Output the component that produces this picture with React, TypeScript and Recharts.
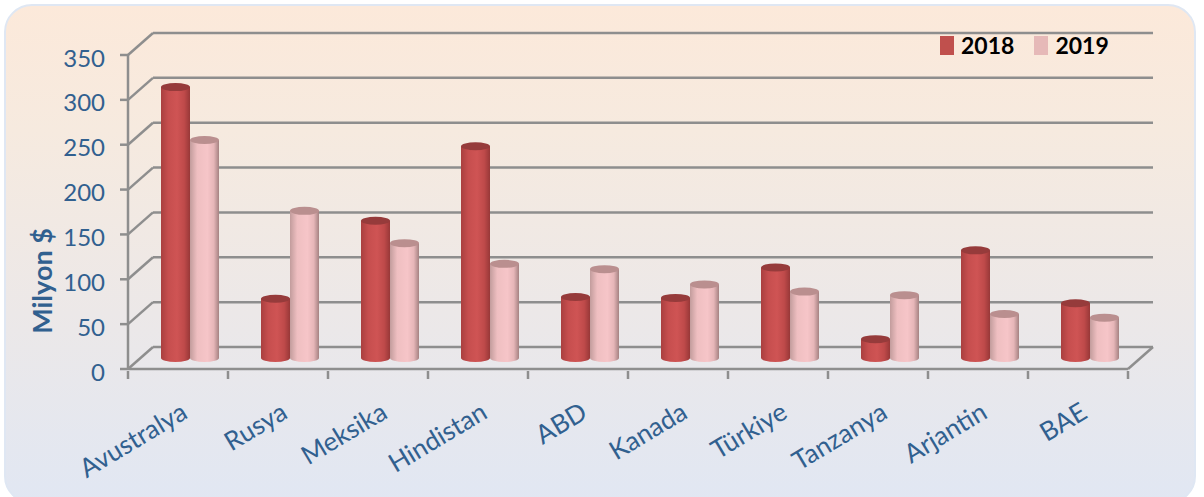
import React from "react";
import { ComposedChart, Bar, XAxis, YAxis, CartesianGrid, Legend, Label } from "recharts";

const categories = ["Avustralya", "Rusya", "Meksika", "Hindistan", "ABD", "Kanada", "Türkiye", "Tanzanya", "Arjantin", "BAE"];
const values2018 = [302, 66, 153, 236, 68, 67, 101, 21, 120, 61];
const values2019 = [243, 164, 128, 105, 99, 82, 74, 70, 49, 45];
const yTicks = [0, 50, 100, 150, 200, 250, 300, 350];
const data = categories.map((name, i) => ({ name, y2018: values2018[i], y2019: values2019[i] }));

const BLUE = "#31608f";
const AXIS = "#8e8e8e";
const FONT = "Lato, 'Open Sans', sans-serif";
const DX = 25;
const DY = -22;
const BAR_DX = 12;
const BAR_DY = -11;

const GridLine = (p: any) => {
  const { x1, x2, y1 } = p;
  const isFloor = y1 > 360;
  return (
    <g stroke={AXIS} strokeWidth={2.5} fill="none">
      <line x1={x1} y1={y1} x2={x1 + DX} y2={y1 + DY} />
      <line x1={x1 + DX} y1={y1 + DY} x2={x2 + DX} y2={y1 + DY} />
      {isFloor && <line x1={x2} y1={y1} x2={x2 + DX} y2={y1 + DY} />}
    </g>
  );
};

const Cylinder = (p: any, grad: string, topColor: string) => {
  const { x, y, width, height } = p;
  const left = x + BAR_DX;
  const top = y + BAR_DY;
  const bottom = top + height;
  const rx = width / 2;
  const ry = 4;
  return (
    <g>
      <path
        d={`M${left},${top} L${left},${bottom} A${rx},${ry} 0 0 0 ${left + width},${bottom} L${left + width},${top} Z`}
        fill={`url(#${grad})`}
      />
      <ellipse cx={left + rx} cy={top} rx={rx} ry={ry} fill={topColor} />
    </g>
  );
};

const XTick = (p: any) => {
  const { x, y, payload, index } = p;
  return (
    <g>
      <line x1={x - 50} y1={y} x2={x - 50} y2={y + 8} stroke={AXIS} strokeWidth={2.5} />
      {index === categories.length - 1 && <line x1={x + 50} y1={y} x2={x + 50} y2={y + 8} stroke={AXIS} strokeWidth={2.5} />}
      <text
        transform={`translate(${x + 11},${y + 46}) rotate(-31)`}
        textAnchor="end"
        fill={BLUE}
        fontFamily={FONT}
        fontSize={26}
      >
        {payload.value}
      </text>
    </g>
  );
};

const LegendContent = (p: any) => (
  <div style={{ display: "flex", fontFamily: FONT, fontWeight: 700, fontSize: 23, color: "#000", lineHeight: "26px" }}>
    {(p.payload || []).map((e: any) => (
      <div key={e.value} style={{ display: "flex", alignItems: "center", marginRight: 20 }}>
        <span style={{ width: 14, height: 19, background: e.color, marginRight: 7, display: "inline-block" }} />
        <span>{e.value}</span>
      </div>
    ))}
  </div>
);

export default function App() {
  return (
    <div style={{ position: "absolute", left: 0, top: 0, width: 1204, height: 497, overflow: "hidden", background: "#fff" }}>
      <div
        style={{
          position: "absolute",
          left: 4,
          top: 4,
          width: 1192,
          height: 500,
          boxSizing: "border-box",
          borderRadius: 28,
          border: "2px solid #dfe7f3",
          background: "linear-gradient(180deg, #fce9da 0%, #f6eadf 25%, #ece8e8 62%, #e1e7f3 100%)",
        }}
      />
      <div style={{ position: "absolute", left: 0, top: 0 }}>
        <ComposedChart
          width={1204}
          height={497}
          data={data}
          barGap={0}
          barCategoryGap={21}
          margin={{ top: 55, right: 76, bottom: 0, left: 0 }}
        >
          <defs>
            <linearGradient id="g2018" x1="0" y1="0" x2="1" y2="0">
              <stop offset="0%" stopColor="#a93f3f" />
              <stop offset="25%" stopColor="#c64e4e" />
              <stop offset="55%" stopColor="#cf5454" />
              <stop offset="80%" stopColor="#bf4a4a" />
              <stop offset="100%" stopColor="#983838" />
            </linearGradient>
            <linearGradient id="g2019" x1="0" y1="0" x2="1" y2="0">
              <stop offset="0%" stopColor="#c29c9c" />
              <stop offset="25%" stopColor="#efbfc1" />
              <stop offset="60%" stopColor="#f6c5c8" />
              <stop offset="82%" stopColor="#e6b6b8" />
              <stop offset="100%" stopColor="#a58282" />
            </linearGradient>
          </defs>
          <CartesianGrid vertical={false} horizontal={GridLine as any} syncWithTicks />
          <XAxis
            dataKey="name"
            interval={0}
            height={128}
            tickSize={0}
            tickLine={false}
            tick={XTick as any}
            axisLine={{ stroke: AXIS, strokeWidth: 2.5 }}
          />
          <YAxis
            width={128}
            domain={[0, 350]}
            ticks={yTicks}
            interval={0}
            tickSize={8}
            tickMargin={15}
            tick={{ fill: BLUE, fontFamily: FONT, fontSize: 24, dy: 3 }}
            tickLine={{ stroke: AXIS, strokeWidth: 2.5 }}
            axisLine={{ stroke: AXIS, strokeWidth: 2.5 }}
          >
            <Label
              content={() => (
                <text
                  transform="translate(52,281) rotate(-90)"
                  textAnchor="middle"
                  fill={BLUE}
                  fontFamily={FONT}
                  fontWeight={700}
                  fontSize={27}
                >
                  Milyon $
                </text>
              )}
            />
          </YAxis>
          <Legend
            verticalAlign="middle"
            content={LegendContent as any}
            wrapperStyle={{ position: "absolute", left: 940, top: 32, width: 200 }}
          />
          <Bar
            dataKey="y2018"
            name="2018"
            fill="#c0504d"
            barSize={29}
            isAnimationActive={false}
            shape={(p: any) => Cylinder(p, "g2018", "#963b3b")}
          />
          <Bar
            dataKey="y2019"
            name="2019"
            fill="#e6b9b8"
            barSize={29}
            isAnimationActive={false}
            shape={(p: any) => Cylinder(p, "g2019", "#ba8f8f")}
          />
        </ComposedChart>
      </div>
    </div>
  );
}
